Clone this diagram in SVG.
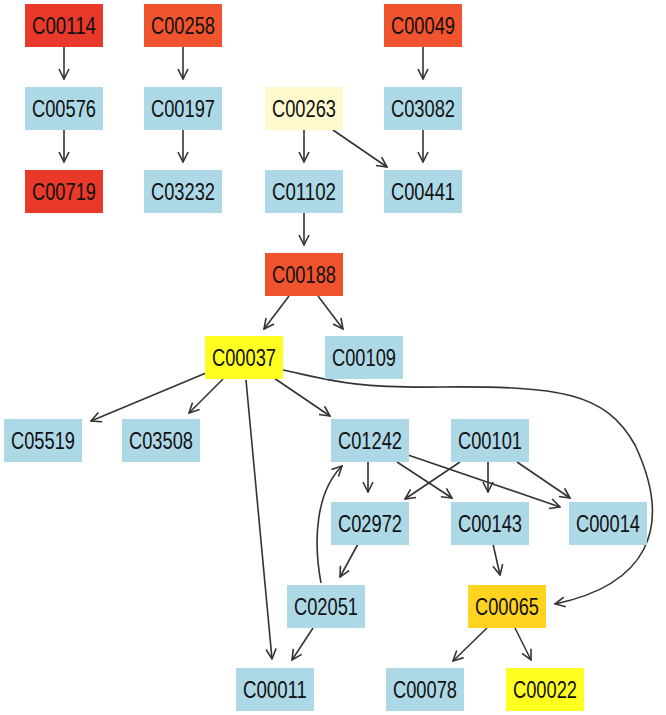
<svg xmlns="http://www.w3.org/2000/svg" width="666" height="715" viewBox="0 0 666 715">
<defs>
<style>
.n rect{stroke:none}
.n text{font-family:"Liberation Sans",Arial,sans-serif;font-size:23px;fill:#111;text-anchor:middle;dominant-baseline:central}
.blue rect{fill:#add8e6}
.red rect{fill:#e8392a}
.ored rect{fill:#f0542f}
.lyel rect{fill:#fffacd}
.yel rect{fill:#ffff22}
.gold rect{fill:#ffd320}
.e path{fill:none;stroke:#333;stroke-width:1.6;marker-end:url(#ah)}
</style>
<marker id="ah" viewBox="0 0 12 12" refX="11" refY="6" markerWidth="12" markerHeight="12" markerUnits="userSpaceOnUse" orient="auto">
<path d="M1,1 L11,6 L1,11" fill="none" stroke="#333" stroke-width="1.6"/>
</marker>
</defs>
<rect width="666" height="715" fill="#fff"/>
<g id="edges" class="e">
<path d="M64,47 L64,79"/>
<path d="M64,130 L64,162"/>
<path d="M183,47 L183,79"/>
<path d="M183,130 L183,162"/>
<path d="M423,47 L423,79"/>
<path d="M423,130 L423,162"/>
<path d="M304,130 L304,162"/>
<path d="M333,130 L387,167"/>
<path d="M304,213 L304,245"/>
<path d="M289,296 L264,329"/>
<path d="M318,296 L343,329"/>
<path d="M206,373 L91,421"/>
<path d="M223,379 L189,413"/>
<path d="M274,378 L330,416"/>
<path d="M246,380 L272,659"/>
<path d="M283,370 C330,380 350,388 440,387 C560,386 605,392 635,445 C675,530 645,585 555,604"/>
<path d="M368,462 L368,492"/>
<path d="M397,462 L452,498"/>
<path d="M408,455 L560,507"/>
<path d="M460,462 L405,499"/>
<path d="M488,462 L488,492"/>
<path d="M517,462 L570,498"/>
<path d="M358,544 L340,577"/>
<path d="M493,544 L500,575"/>
<path d="M321,583 C313,540 316,492 342,466"/>
<path d="M313,628 L292,660"/>
<path d="M487,628 L453,661"/>
<path d="M515,628 L531,660"/>
</g>
<g id="C00114" class="n red"><rect x="25" y="4" width="78" height="43"/><text x="64" y="26" textLength="64" lengthAdjust="spacingAndGlyphs">C00114</text></g>
<g id="C00576" class="n blue"><rect x="25" y="87" width="78" height="43"/><text x="64" y="109" textLength="64" lengthAdjust="spacingAndGlyphs">C00576</text></g>
<g id="C00719" class="n red"><rect x="25" y="170" width="78" height="43"/><text x="64" y="192" textLength="64" lengthAdjust="spacingAndGlyphs">C00719</text></g>
<g id="C00258" class="n ored"><rect x="144" y="4" width="78" height="43"/><text x="183" y="26" textLength="64" lengthAdjust="spacingAndGlyphs">C00258</text></g>
<g id="C00197" class="n blue"><rect x="144" y="87" width="78" height="43"/><text x="183" y="109" textLength="64" lengthAdjust="spacingAndGlyphs">C00197</text></g>
<g id="C03232" class="n blue"><rect x="144" y="170" width="78" height="43"/><text x="183" y="192" textLength="64" lengthAdjust="spacingAndGlyphs">C03232</text></g>
<g id="C00049" class="n ored"><rect x="384" y="4" width="78" height="43"/><text x="423" y="26" textLength="64" lengthAdjust="spacingAndGlyphs">C00049</text></g>
<g id="C03082" class="n blue"><rect x="384" y="87" width="78" height="43"/><text x="423" y="109" textLength="64" lengthAdjust="spacingAndGlyphs">C03082</text></g>
<g id="C00263" class="n lyel"><rect x="265" y="87" width="78" height="43"/><text x="304" y="109" textLength="64" lengthAdjust="spacingAndGlyphs">C00263</text></g>
<g id="C01102" class="n blue"><rect x="265" y="170" width="78" height="43"/><text x="304" y="192" textLength="64" lengthAdjust="spacingAndGlyphs">C01102</text></g>
<g id="C00441" class="n blue"><rect x="384" y="170" width="78" height="43"/><text x="423" y="192" textLength="64" lengthAdjust="spacingAndGlyphs">C00441</text></g>
<g id="C00188" class="n ored"><rect x="265" y="253" width="78" height="43"/><text x="304" y="275" textLength="64" lengthAdjust="spacingAndGlyphs">C00188</text></g>
<g id="C00037" class="n yel"><rect x="205" y="336" width="78" height="43"/><text x="244" y="358" textLength="64" lengthAdjust="spacingAndGlyphs">C00037</text></g>
<g id="C00109" class="n blue"><rect x="325" y="336" width="78" height="43"/><text x="364" y="358" textLength="64" lengthAdjust="spacingAndGlyphs">C00109</text></g>
<g id="C05519" class="n blue"><rect x="4" y="419" width="78" height="43"/><text x="43" y="441" textLength="64" lengthAdjust="spacingAndGlyphs">C05519</text></g>
<g id="C03508" class="n blue"><rect x="122" y="419" width="78" height="43"/><text x="161" y="441" textLength="64" lengthAdjust="spacingAndGlyphs">C03508</text></g>
<g id="C01242" class="n blue"><rect x="331" y="419" width="78" height="43"/><text x="370" y="441" textLength="64" lengthAdjust="spacingAndGlyphs">C01242</text></g>
<g id="C00101" class="n blue"><rect x="451" y="419" width="78" height="43"/><text x="490" y="441" textLength="64" lengthAdjust="spacingAndGlyphs">C00101</text></g>
<g id="C02972" class="n blue"><rect x="331" y="502" width="78" height="43"/><text x="370" y="524" textLength="64" lengthAdjust="spacingAndGlyphs">C02972</text></g>
<g id="C00143" class="n blue"><rect x="451" y="502" width="78" height="43"/><text x="490" y="524" textLength="64" lengthAdjust="spacingAndGlyphs">C00143</text></g>
<g id="C00014" class="n blue"><rect x="569" y="502" width="78" height="43"/><text x="608" y="524" textLength="64" lengthAdjust="spacingAndGlyphs">C00014</text></g>
<g id="C02051" class="n blue"><rect x="287" y="585" width="78" height="43"/><text x="326" y="607" textLength="64" lengthAdjust="spacingAndGlyphs">C02051</text></g>
<g id="C00065" class="n gold"><rect x="468" y="585" width="78" height="43"/><text x="507" y="607" textLength="64" lengthAdjust="spacingAndGlyphs">C00065</text></g>
<g id="C00011" class="n blue"><rect x="236" y="668" width="78" height="43"/><text x="275" y="690" textLength="64" lengthAdjust="spacingAndGlyphs">C00011</text></g>
<g id="C00078" class="n blue"><rect x="386" y="668" width="78" height="43"/><text x="425" y="690" textLength="64" lengthAdjust="spacingAndGlyphs">C00078</text></g>
<g id="C00022" class="n yel"><rect x="506" y="668" width="78" height="43"/><text x="545" y="690" textLength="64" lengthAdjust="spacingAndGlyphs">C00022</text></g>
</svg>
